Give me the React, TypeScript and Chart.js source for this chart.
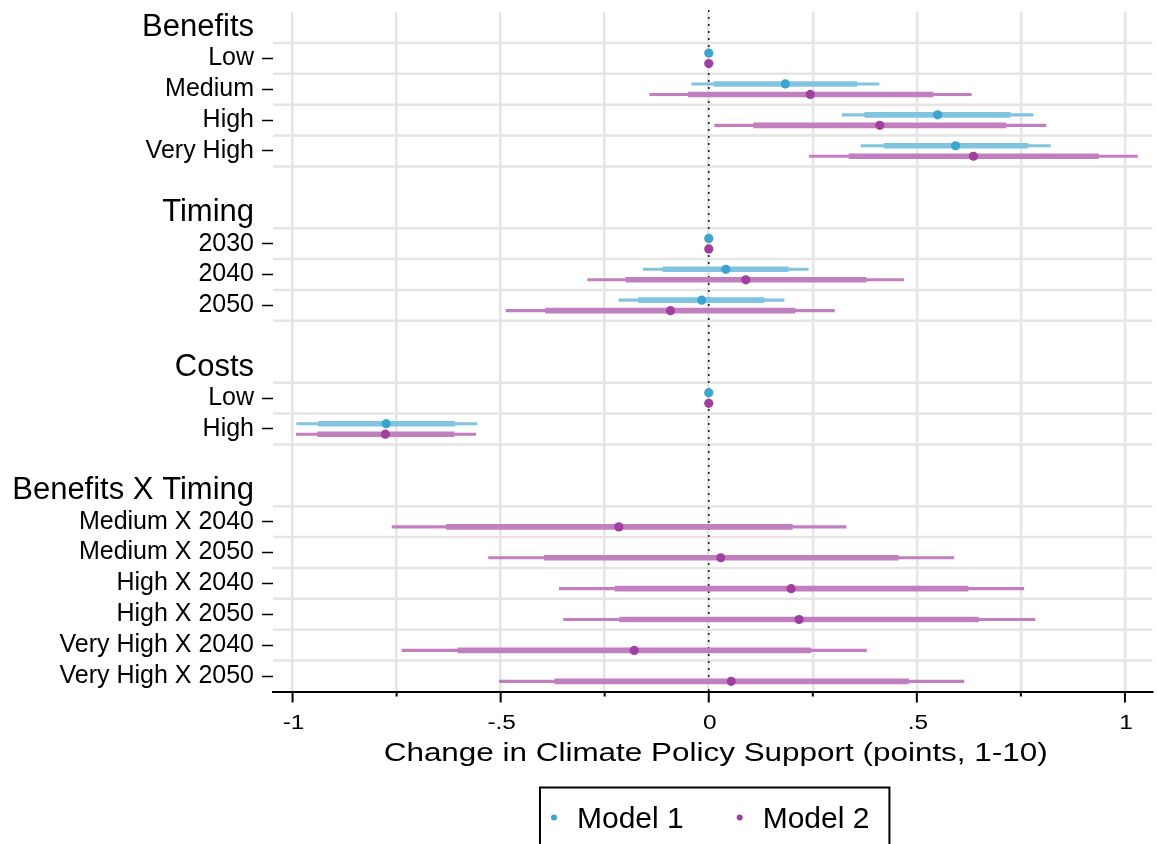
import React, { useEffect, useRef } from 'react';
import { Chart, registerables } from 'chart.js';

Chart.register(...registerables);

const FONT = "'Liberation Sans', Arial, Helvetica, sans-serif";

// Row labels from top to bottom ('' = spacer row)
const rowLabels = [
  'Benefits', 'Low', 'Medium', 'High', 'Very High', '',
  'Timing', '2030', '2040', '2050', '',
  'Costs', 'Low', 'High', '',
  'Benefits X Timing', 'Medium X 2040', 'Medium X 2050', 'High X 2040', 'High X 2050', 'Very High X 2040', 'Very High X 2050',
];
const headerRows = [0, 6, 11, 15];
const seriesNames = ['Model 1', 'Model 2'];

// Model 1 estimates
const m1Point = [null, 0, 0.184, 0.550, 0.593, null, null, 0, 0.041, -0.017, null, null, 0, -0.775, null, null, null, null, null, null, null, null];
const m1Lo95 = [null, null, -0.041, 0.321, 0.366, null, null, null, -0.157, -0.216, null, null, null, -0.990, null, null, null, null, null, null, null, null];
const m1Lo90 = [null, null, 0.012, 0.375, 0.421, null, null, null, -0.110, -0.169, null, null, null, -0.938, null, null, null, null, null, null, null, null];
const m1Hi90 = [null, null, 0.356, 0.724, 0.767, null, null, null, 0.191, 0.133, null, null, null, -0.610, null, null, null, null, null, null, null, null];
const m1Hi95 = [null, null, 0.409, 0.779, 0.821, null, null, null, 0.239, 0.181, null, null, null, -0.557, null, null, null, null, null, null, null, null];

// Model 2 estimates
const m2Point = [null, 0, 0.244, 0.411, 0.636, null, null, 0, 0.089, -0.092, null, null, 0, -0.777, null, null, -0.216, 0.029, 0.198, 0.217, -0.179, 0.054];
const m2Lo95 = [null, null, -0.142, 0.014, 0.242, null, null, null, -0.291, -0.487, null, null, null, -0.991, null, null, -0.761, -0.529, -0.359, -0.349, -0.737, -0.503];
const m2Lo90 = [null, null, -0.049, 0.108, 0.337, null, null, null, -0.199, -0.392, null, null, null, -0.940, null, null, -0.630, -0.395, -0.225, -0.214, -0.603, -0.370];
const m2Hi90 = [null, null, 0.539, 0.714, 0.936, null, null, null, 0.378, 0.207, null, null, null, -0.612, null, null, 0.201, 0.455, 0.623, 0.648, 0.245, 0.480];
const m2Hi95 = [null, null, 0.631, 0.810, 1.030, null, null, null, 0.468, 0.302, null, null, null, -0.560, null, null, 0.330, 0.589, 0.757, 0.784, 0.379, 0.613];

const xTickValues = [-1, -0.75, -0.5, -0.25, 0, 0.25, 0.5, 0.75, 1];
const xTickLabels = ['-1', '', '-.5', '', '0', '', '.5', '', '1'];
const xTitle = 'Change in Climate Policy Support (points, 1-10)';

const M1_LINE = '#80C4DF';
const M1_DOT = '#3AA5D1';
const M2_LINE = '#C27FBF';
const M2_DOT = '#A03FA0';
const GRID = '#E5E5E5';
const OFF = 0.17;

function intervals(lo: (number | null)[], hi: (number | null)[], off: number) {
  const out: any[] = [];
  lo.forEach((v, i) => {
    if (v != null && hi[i] != null) out.push({ x: [v, hi[i]], y: i + 0.5 + off });
  });
  return out;
}
function points(p: (number | null)[], off: number) {
  const out: any[] = [];
  p.forEach((v, i) => {
    if (v != null) out.push({ x: v, y: i + 0.5 + off });
  });
  return out;
}

function wideText(ctx: CanvasRenderingContext2D, text: string, x: number, y: number, k: number) {
  ctx.save();
  ctx.translate(x, y);
  ctx.scale(k, 1);
  ctx.fillText(text, 0, 0);
  ctx.restore();
}

const decorPlugin = {
  id: 'decor',
  beforeDatasetsDraw(chart: any) {
    const { ctx, chartArea } = chart;
    const xs = chart.scales.x;
    const ys = chart.scales.y;
    const bounds = new Set<number>();
    rowLabels.forEach((lab, i) => {
      if (lab !== '' && !headerRows.includes(i)) {
        bounds.add(i);
        bounds.add(i + 1);
      }
    });
    ctx.save();
    ctx.strokeStyle = GRID;
    ctx.lineWidth = 2.5;
    bounds.forEach((b) => {
      if (b >= ys.max) return;
      const y = ys.getPixelForValue(b);
      ctx.beginPath();
      ctx.moveTo(chartArea.left, y);
      ctx.lineTo(chartArea.right, y);
      ctx.stroke();
    });
    const x0 = xs.getPixelForValue(0);
    ctx.strokeStyle = '#222';
    ctx.lineWidth = 1.6;
    ctx.setLineDash([2, 5]);
    ctx.beginPath();
    ctx.moveTo(x0, chartArea.top - 2);
    ctx.lineTo(x0, chartArea.bottom);
    ctx.stroke();
    ctx.restore();
  },
  afterDraw(chart: any) {
    const { ctx, chartArea } = chart;
    const xs = chart.scales.x;
    const bottom = chartArea.bottom;
    ctx.save();
    // tick marks
    ctx.strokeStyle = '#000';
    ctx.lineWidth = 2;
    xTickValues.forEach((v, i) => {
      const x = xs.getPixelForValue(v);
      const len = xTickLabels[i] ? 11 : 5;
      ctx.beginPath();
      ctx.moveTo(x, bottom);
      ctx.lineTo(x, bottom + len);
      ctx.stroke();
    });
    // tick labels
    ctx.fillStyle = '#000';
    ctx.textAlign = 'center';
    ctx.textBaseline = 'alphabetic';
    ctx.font = `20px ${FONT}`;
    xTickValues.forEach((v, i) => {
      if (!xTickLabels[i]) return;
      wideText(ctx, xTickLabels[i], xs.getPixelForValue(v) + 1, bottom + 37.5, 1.22);
    });
    // axis title
    ctx.font = `25px ${FONT}`;
    const cx = (chartArea.left + chartArea.right) / 2 + 2;
    const tw = ctx.measureText(xTitle).width;
    wideText(ctx, xTitle, cx + 1, bottom + 69, 664 / tw);
    // legend
    ctx.font = `30px ${FONT}`;
    const w1 = ctx.measureText(seriesNames[0]).width;
    const w2 = ctx.measureText(seriesNames[1]).width;
    const total = 14 + 23 + w1 + 56 + 23 + w2 + 20;
    const left = cx - total / 2;
    const top = bottom + 96;
    ctx.strokeStyle = '#000';
    ctx.lineWidth = 2;
    ctx.strokeRect(left, top, total, 80);
    const dotY = top + 30;
    const baseY = top + 40;
    ctx.textAlign = 'left';
    let x = left + 14;
    ctx.fillStyle = M1_DOT;
    ctx.beginPath();
    ctx.arc(x, dotY, 3, 0, Math.PI * 2);
    ctx.fill();
    ctx.fillStyle = '#000';
    ctx.fillText(seriesNames[0], x + 23, baseY);
    x = x + 23 + w1 + 56;
    ctx.fillStyle = M2_DOT;
    ctx.beginPath();
    ctx.arc(x, dotY, 3, 0, Math.PI * 2);
    ctx.fill();
    ctx.fillStyle = '#000';
    ctx.fillText(seriesNames[1], x + 23, baseY);
    ctx.restore();
  },
};

export default function App() {
  const ref = useRef<HTMLCanvasElement | null>(null);
  useEffect(() => {
    if (!ref.current) return;
    const isBlankTick = (i: number) => headerRows.includes(i) || rowLabels[i] === '';
    const chart = new Chart(ref.current, {
      type: 'bar',
      data: {
        datasets: [
          { type: 'scatter', label: seriesNames[0], data: points(m1Point, -OFF), backgroundColor: M1_DOT, pointRadius: 4.6, borderWidth: 0, order: 0 } as any,
          { type: 'scatter', label: seriesNames[1], data: points(m2Point, OFF), backgroundColor: M2_DOT, pointRadius: 4.6, borderWidth: 0, order: 0 } as any,
          { type: 'bar', label: seriesNames[0] + ' 90', data: intervals(m1Lo90, m1Hi90, -OFF), backgroundColor: M1_LINE, barThickness: 5, grouped: false, borderWidth: 0, order: 1 } as any,
          { type: 'bar', label: seriesNames[1] + ' 90', data: intervals(m2Lo90, m2Hi90, OFF), backgroundColor: M2_LINE, barThickness: 5, grouped: false, borderWidth: 0, order: 1 } as any,
          { type: 'bar', label: seriesNames[0] + ' 95', data: intervals(m1Lo95, m1Hi95, -OFF), backgroundColor: M1_LINE, barThickness: 2.5, grouped: false, borderWidth: 0, order: 2 } as any,
          { type: 'bar', label: seriesNames[1] + ' 95', data: intervals(m2Lo95, m2Hi95, OFF), backgroundColor: M2_LINE, barThickness: 2.5, grouped: false, borderWidth: 0, order: 2 } as any,
        ],
      },
      options: {
        indexAxis: 'y',
        animation: false,
        responsive: true,
        maintainAspectRatio: false,
        events: [],
        layout: { padding: { top: 12, left: 0, right: 0, bottom: 0 } },
        plugins: { legend: { display: false }, tooltip: { enabled: false } },
        scales: {
          x: {
            type: 'linear',
            min: -1.047,
            max: 1.066,
            afterBuildTicks: (s: any) => { s.ticks = xTickValues.map((v) => ({ value: v })); },
            ticks: { display: false },
            grid: { color: GRID, lineWidth: 2.5, drawTicks: false },
            border: { display: true, color: '#000', width: 2 },
            afterFit: (s: any) => { s.height = 152.5; s.paddingLeft = 0; s.paddingRight = 0; },
          },
          y: {
            type: 'linear',
            reverse: true,
            min: 0,
            max: 22,
            offset: false,
            afterBuildTicks: (s: any) => { s.ticks = rowLabels.map((_, i) => ({ value: i + 0.5 })); },
            ticks: {
              autoSkip: false,
              color: '#000',
              padding: 8,
              callback: (_v: any, i: number) => rowLabels[i],
              font: (c: any) => ({ family: FONT, size: headerRows.includes(c.index) ? 31 : 25 }),
            },
            grid: {
              offset: false,
              drawOnChartArea: false,
              drawTicks: true,
              tickLength: 11,
              tickWidth: 1.5,
              tickColor: (c: any) => (isBlankTick(c.index) ? 'rgba(0,0,0,0)' : '#000'),
            },
            border: { display: false },
            afterFit: (s: any) => { s.width = 273; s.paddingTop = 0; s.paddingBottom = 0; },
          },
        },
      } as any,
      plugins: [decorPlugin],
    });
    return () => chart.destroy();
  }, []);
  return (
    <div style={{ position: 'fixed', left: 0, top: 0, width: 1157, height: 844, background: '#fff' }}>
      <canvas ref={ref} />
    </div>
  );
}
